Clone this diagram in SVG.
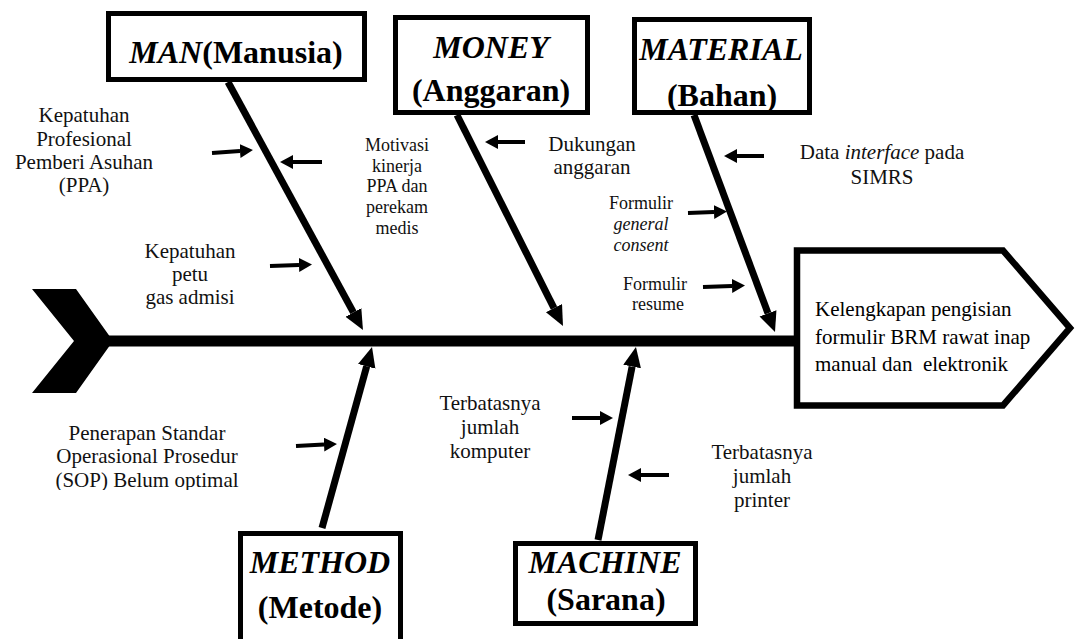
<svg xmlns="http://www.w3.org/2000/svg" width="1076" height="639" viewBox="0 0 1076 639">
<style>
text{font-family:"Liberation Serif","Times New Roman",serif;fill:#000;}
.cat{font-size:32px;font-weight:bold;text-anchor:middle;}
.it{font-style:italic;}
.lbl{font-size:21px;text-anchor:middle;fill:#111;}
.sm{font-size:18px;text-anchor:middle;fill:#111;}
.box{fill:#fff;stroke:#000;stroke-width:5;}
.bone{stroke:#000;stroke-width:7;fill:none;marker-end:url(#bh);}
.sa{stroke:#000;stroke-width:4;fill:none;marker-end:url(#sh);}
</style>
<defs>
<marker id="bh" markerUnits="userSpaceOnUse" markerWidth="22" markerHeight="20" refX="0" refY="9" orient="auto" viewBox="0 0 22 20"><path d="M0,0 L20,9 L0,18 Z" fill="#000"/></marker>
<marker id="sh" markerUnits="userSpaceOnUse" markerWidth="14" markerHeight="15" refX="0" refY="7" orient="auto" viewBox="0 0 14 15"><path d="M0,0 L13,7 L0,14 Z" fill="#000"/></marker>
<clipPath id="clipSop"><rect x="0" y="400" width="300" height="90"/></clipPath>
</defs>
<rect width="1076" height="639" fill="#fff"/>

<g id="spine">
<polygon points="32,289 76,289 113,341 76,393 32,393 74,341" fill="#000"/>
<rect x="105" y="335.5" width="694" height="11" fill="#000"/>
</g>

<g id="connectors">
<line class="bone" x1="228" y1="82" x2="353.4" y2="312.4"/>
<line class="bone" x1="457" y1="115" x2="554" y2="308.1"/>
<line class="bone" x1="694" y1="115" x2="768" y2="313.3"/>
<line class="bone" x1="322" y1="528" x2="366.7" y2="366.3"/>
<line class="bone" x1="598" y1="540" x2="632.1" y2="366.6"/>
<line class="sa" x1="212" y1="153" x2="240" y2="151"/>
<line class="sa" x1="322" y1="162" x2="293" y2="162"/>
<line class="sa" x1="270" y1="266" x2="299" y2="265"/>
<line class="sa" x1="525" y1="142" x2="498" y2="142"/>
<line class="sa" x1="764" y1="156" x2="737" y2="156"/>
<line class="sa" x1="688" y1="213" x2="714" y2="212"/>
<line class="sa" x1="703" y1="287" x2="732" y2="286"/>
<line class="sa" x1="296" y1="446" x2="324" y2="444.6"/>
<line class="sa" x1="572" y1="418" x2="600" y2="418"/>
<line class="sa" x1="669" y1="475" x2="641" y2="475"/>
</g>

<g id="head">
<path d="M797,250.5 L1003,250.5 L1070,328 L1003,405.5 L797,405.5 Z" fill="#fff" stroke="#000" stroke-width="6.5"/>
<text x="815" y="316" style="font-size:21px" fill="#111">Kelengkapan pengisian</text>
<text x="815" y="344" style="font-size:21px" fill="#111">formulir BRM rawat inap</text>
<text x="815" y="371" style="font-size:21px" fill="#111" xml:space="preserve">manual dan  elektronik</text>
</g>

<g id="man">
<rect class="box" x="108.5" y="13.5" width="256" height="66"/>
<text class="cat" x="236" y="63"><tspan class="it">MAN</tspan>(Manusia)</text>
</g>

<g id="money">
<rect class="box" x="395.5" y="17.5" width="192" height="95"/>
<text class="cat it" x="491" y="58">MONEY</text>
<text class="cat" x="491" y="101">(Anggaran)</text>
</g>

<g id="material">
<rect class="box" x="634.5" y="19.5" width="175" height="93"/>
<text class="cat it" x="721" y="60">MATERIAL</text>
<text class="cat" x="722" y="106">(Bahan)</text>
</g>

<g id="method">
<rect class="box" x="240.5" y="533.5" width="160" height="120"/>
<text class="cat it" x="320" y="573">METHOD</text>
<text class="cat" x="320" y="618">(Metode)</text>
</g>

<g id="machine">
<rect class="box" x="515.5" y="543.5" width="180" height="80"/>
<text class="cat it" x="605" y="573" fill="#1c1c1c">MACHINE</text>
<text class="cat" x="606" y="610" fill="#1c1c1c">(Sarana)</text>
</g>

<g id="cause-kepatuhan-ppa">
<text class="lbl" x="84" y="122">Kepatuhan</text>
<text class="lbl" x="84" y="146">Profesional</text>
<text class="lbl" x="84" y="169">Pemberi Asuhan</text>
<text class="lbl" x="84" y="192">(PPA)</text>
</g>

<g id="cause-kepatuhan-admisi">
<text class="lbl" x="190" y="258">Kepatuhan</text>
<text class="lbl" x="190" y="281">petu</text>
<text class="lbl" x="190" y="304">gas admisi</text>
</g>

<g id="cause-motivasi">
<text class="sm" x="397" y="151">Motivasi</text>
<text class="sm" x="397" y="172">kinerja</text>
<text class="sm" x="397" y="192">PPA dan</text>
<text class="sm" x="397" y="213">perekam</text>
<text class="sm" x="397" y="234">medis</text>
</g>

<g id="cause-dukungan">
<text class="lbl" x="592" y="151">Dukungan</text>
<text class="lbl" x="592" y="174">anggaran</text>
</g>

<g id="cause-data">
<text class="lbl" x="882" y="159">Data <tspan class="it">interface</tspan> pada</text>
<text class="lbl" x="882" y="184">SIMRS</text>
</g>

<g id="cause-general-consent">
<text class="sm" x="641" y="209">Formulir</text>
<text class="sm it" x="641" y="230">general</text>
<text class="sm it" x="641" y="251">consent</text>
</g>

<g id="cause-resume">
<text class="sm" x="655" y="290">Formulir</text>
<text class="sm" x="658" y="310">resume</text>
</g>

<g id="cause-sop" clip-path="url(#clipSop)">
<text class="lbl" x="147" y="440">Penerapan Standar</text>
<text class="lbl" x="147" y="463">Operasional Prosedur</text>
<text class="lbl" x="147" y="487">(SOP) Belum optimal</text>
</g>

<g id="cause-komputer">
<text class="lbl" x="490" y="410">Terbatasnya</text>
<text class="lbl" x="490" y="434">jumlah</text>
<text class="lbl" x="490" y="458">komputer</text>
</g>

<g id="cause-printer">
<text class="lbl" x="762" y="459">Terbatasnya</text>
<text class="lbl" x="762" y="483">jumlah</text>
<text class="lbl" x="762" y="507">printer</text>
</g>
</svg>
